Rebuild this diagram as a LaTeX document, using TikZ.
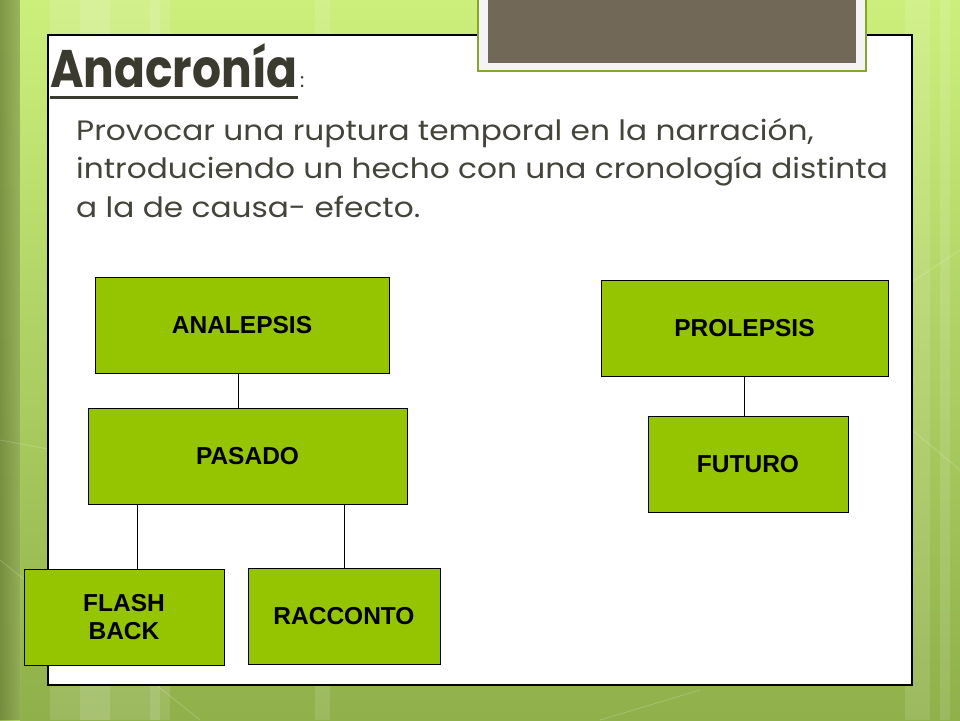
\documentclass[tikz,border=0pt]{standalone}
\usepackage{fontspec}
\setmainfont{Liberation Sans}
\newfontfamily\titlefont{Poppins}
\usetikzlibrary{calc,fadings}
\definecolor{boxgreen}{HTML}{95C400}
\definecolor{bgtop}{HTML}{CCEF7C}
\definecolor{bgbot}{HTML}{8FB04A}
\definecolor{framegreen}{HTML}{86A52A}
\definecolor{brownbox}{HTML}{716858}
\definecolor{lightgray}{HTML}{F4F4F6}
\definecolor{titlecol}{HTML}{3B3A2E}
\definecolor{bodycol}{HTML}{45443A}
\tikzset{
  gbox/.style={draw=black, line width=0.9pt, fill=boxgreen, rectangle,
    minimum height=96pt, inner sep=0pt, align=center,
    font=\fontsize{24.5}{28}\selectfont\bfseries},
  conn/.style={draw=black, line width=0.8pt},
  stripe/.style={fill=white, opacity=0.12, draw=none}
}
\begin{document}
\begin{tikzpicture}[x=1pt,y=-1pt]
\useasboundingbox (0,0) rectangle (960,720);
% background
\shade[top color=bgtop, bottom color=bgbot] (0,0) rectangle (960,720);
\fill[left color=bgbot!80!bgtop, right color=bgtop, opacity=0.6] (0,0) rectangle (20,720);
\fill[stripe] (50,0) rectangle (160,720);
\fill[stripe] (80,0) rectangle (110,720);
\fill[stripe] (150,0) rectangle (170,720);
\fill[stripe] (315,0) rectangle (330,720);
\fill[stripe] (905,0) rectangle (930,720);
\fill[stripe] (940,0) rectangle (950,720);
\draw[white, opacity=0.2, line width=0.8pt] (0,560) -- (200,720);
\draw[white, opacity=0.2, line width=0.8pt] (0,440) -- (160,470);
\draw[white, opacity=0.2, line width=0.8pt] (960,250) -- (900,290);
\draw[white, opacity=0.2, line width=0.8pt] (900,420) -- (960,470);
\draw[white, opacity=0.2, line width=0.8pt] (600,720) -- (700,690);
% white panel
\draw[fill=white, line width=1.2pt] (48,35) rectangle (912,685);
% top box
\draw[fill=lightgray, draw=framegreen, line width=2.5pt] (478,-5) rectangle (866,71);
\fill[brownbox] (488,-5) rectangle (856,63);
% title
\node[anchor=base west, inner sep=0pt, text=titlecol,
  font=\titlefont\bfseries\fontsize{46}{50}\selectfont] (title) at (50,87) {\scalebox{0.99}[1.15]{Anacronía}};
\draw[titlecol, line width=3pt] ([yshift=-10pt]title.base west) -- ([yshift=-10pt]title.base east);
\node[anchor=base west, inner sep=0pt, text=titlecol,
  font=\titlefont\fontsize{20}{24}\selectfont] (colon) at ([xshift=2pt]title.base east) {:};
% body
\node[anchor=north west, inner sep=0pt, text=bodycol,
  font=\titlefont\fontsize{28}{38.5}\selectfont] (body) at (76,113)
  {\scalebox{1.115}[1]{\begin{tabular}{@{}l@{}}Provocar una ruptura temporal en la narración,\\introduciendo un hecho con una cronología distinta\\a la de causa- efecto.\end{tabular}}};
% boxes
\node[gbox, minimum width=294pt] (ana) at (242,325) {ANALEPSIS};
\node[gbox, minimum width=319pt] (pas) at (247.5,456) {PASADO};
\node[gbox, minimum width=200pt] (fb) at (124,617) {FLASH\\BACK};
\node[gbox, minimum width=192pt] (rac) at (344,616) {RACCONTO};
\node[gbox, minimum width=287pt] (pro) at (744.5,328) {PROLEPSIS};
\node[gbox, minimum width=200pt] (fut) at (748,464) {FUTURO};
% connectors
\draw[conn] ([xshift=-4pt]ana.south) -- ([xshift=-4pt]ana.south |- pas.north);
\draw[conn] ([xshift=13pt]fb.north) -- ([xshift=13pt]fb.north |- pas.south);
\draw[conn] (rac.north) -- (rac.north |- pas.south);
\draw[conn] (pro.south) -- (pro.south |- fut.north);
\end{tikzpicture}
\end{document}
